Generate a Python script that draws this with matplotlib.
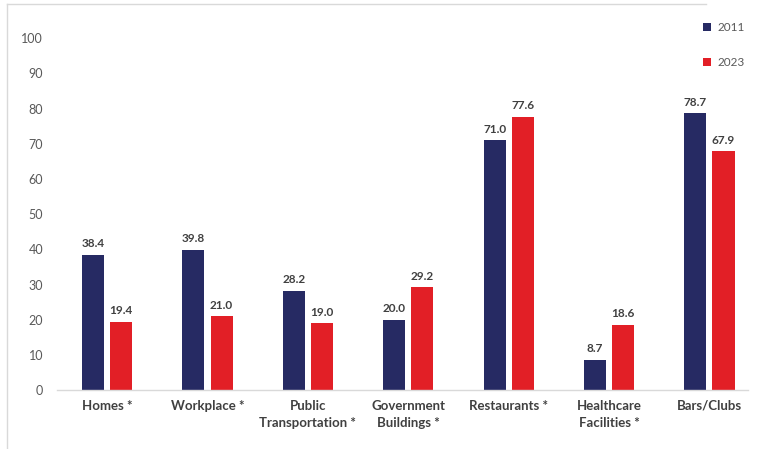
import numpy as np
import matplotlib
matplotlib.use("Agg")
import matplotlib.pyplot as plt
from matplotlib.lines import Line2D

plt.rcParams['font.family'] = ['Lato', 'DejaVu Sans']

categories = ["Homes *", "Workplace *", "Public\nTransportation *", "Government\nBuildings *",
              "Restaurants *", "Healthcare\nFacilities *", "Bars/Clubs"]
vals_2011 = [38.4, 39.8, 28.2, 20.0, 71.0, 8.7, 78.7]
vals_2023 = [19.4, 21.0, 19.0, 29.2, 77.6, 18.6, 67.9]
yticks = [0, 10, 20, 30, 40, 50, 60, 70, 80, 90, 100]

navy = "#262A63"
red = "#E21F26"
txt = "#404040"

fig = plt.figure(figsize=(7.59, 4.49), dpi=100)
ax = fig.add_axes([0.075, 0.131, 0.91, 0.784])

x = np.arange(len(categories))
w = 0.22
off = 0.14
b1 = ax.bar(x - off, vals_2011, w, color=navy, label="2011")
b2 = ax.bar(x + off, vals_2023, w, color=red, label="2023")

for bars in (b1, b2):
    for r in bars:
        ax.text(r.get_x() + r.get_width() / 2, r.get_height() + 1.6, f"{r.get_height():.1f}",
                ha="center", va="bottom", fontsize=8.5, fontweight="bold", color=txt)

ax.set_xlim(-0.5, 6.38)
ax.set_ylim(0, 100)
ax.set_yticks(yticks)
ax.set_xticks(x)
ax.set_xticklabels(categories, fontsize=9.5, fontweight="bold", color=txt, linespacing=1.55)
ax.tick_params(axis="y", length=0, labelsize=9, labelcolor="#595959", pad=10)
ax.tick_params(axis="x", length=0, pad=7)
for s in ("top", "right", "left"):
    ax.spines[s].set_visible(False)
ax.spines["bottom"].set_color("#D9D9D9")
ax.spines["bottom"].set_linewidth(1)

leg = ax.legend(loc="upper right", bbox_to_anchor=(1.012, 1.075), frameon=False, fontsize=8.5,
                handlelength=0.7, handleheight=0.7, labelspacing=2.0, handletextpad=0.6)
for t in leg.get_texts():
    t.set_color("#595959")

# light frame around the chart
fig.add_artist(Line2D([0.009, 0.009], [0.0, 0.99], color="#D9D9D9", lw=1, transform=fig.transFigure))
fig.add_artist(Line2D([0.009, 0.93], [0.99, 0.99], color="#D9D9D9", lw=1, transform=fig.transFigure))

fig.savefig("out.png", dpi=100, facecolor="white")
